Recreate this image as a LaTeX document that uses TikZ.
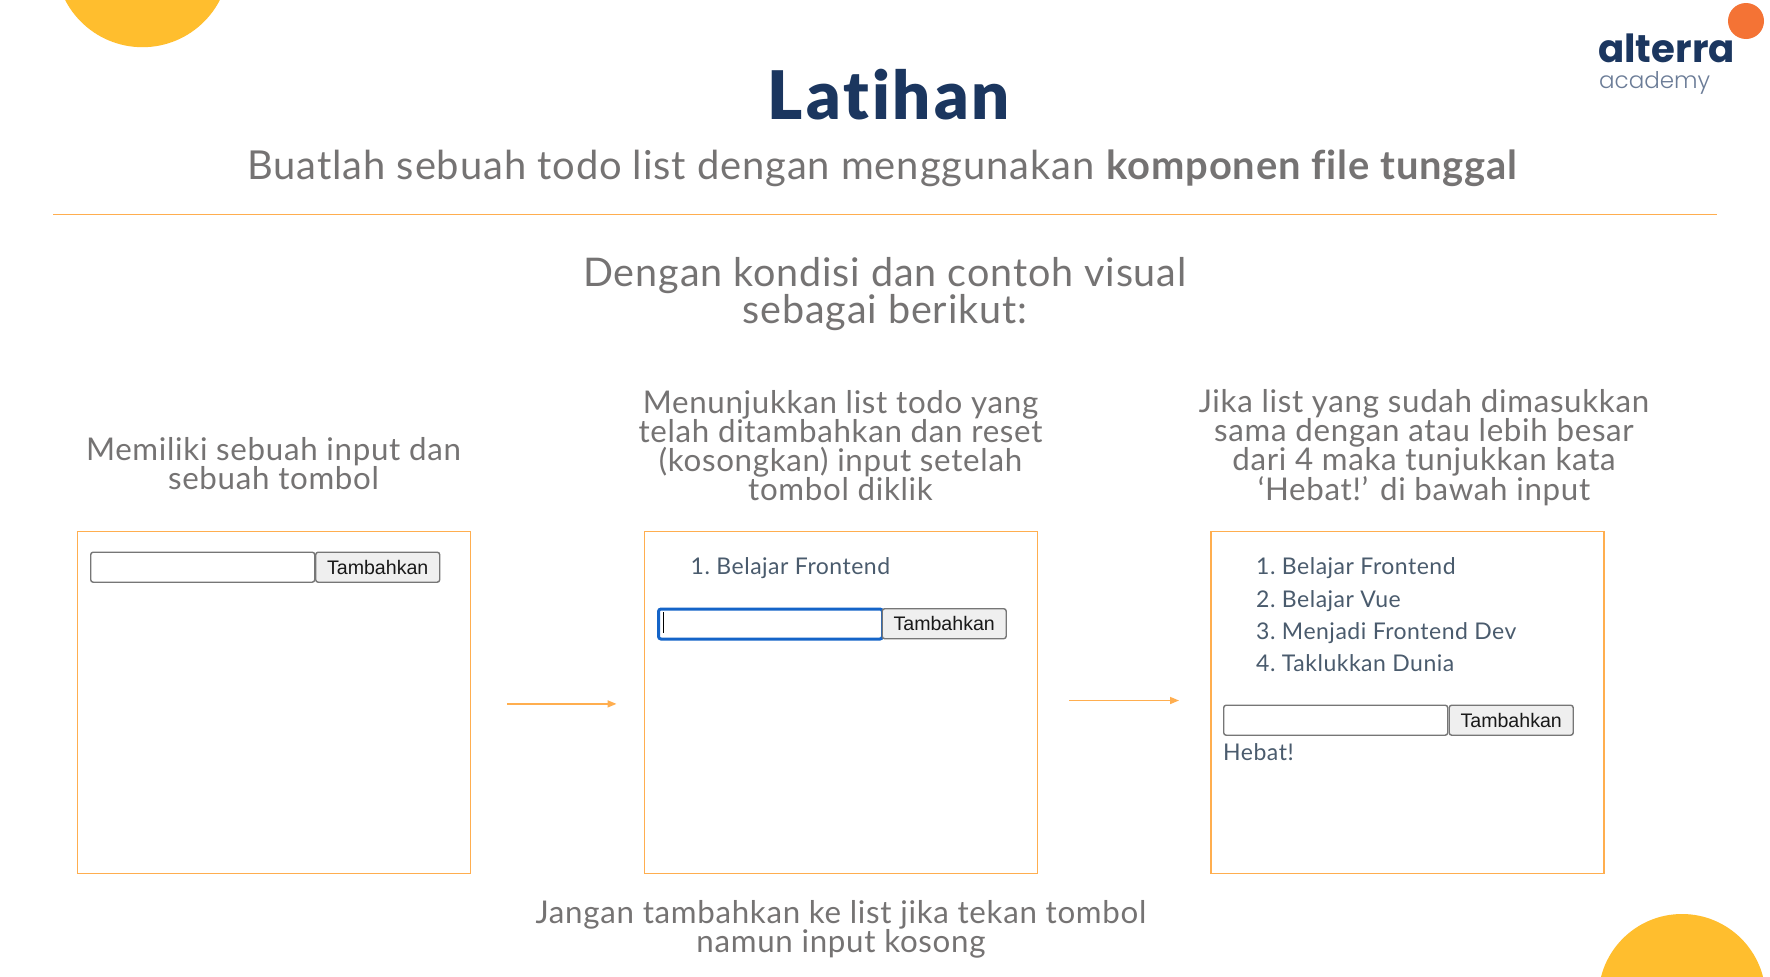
\documentclass[tikz,border=0pt]{standalone}
\usepackage{fontspec}
\setmainfont{Lato}[LetterSpace=2.2,Ligatures=NoCommon]
\newfontfamily\titlefont{Lato Black}[LetterSpace=4.5,Ligatures=NoCommon]
\newfontfamily\logofont{Poppins}
\newfontfamily\logolight{Poppins Light}
\newfontfamily\btnfont{Liberation Sans}
\usetikzlibrary{arrows.meta}
\definecolor{navy}{HTML}{1B365F}
\definecolor{greytext}{HTML}{757373}
\definecolor{framecol}{HTML}{FFAE4F}
\definecolor{listcol}{HTML}{4A5B6D}
\definecolor{sunny}{HTML}{FFBE2E}
\definecolor{logoorange}{HTML}{F47335}
\definecolor{btnfill}{HTML}{EFEFEF}
\definecolor{btnedge}{HTML}{767676}
\definecolor{focusblue}{HTML}{1464C8}
\tikzset{
  x=1pt,y=-1pt,
  lbl/.style={inner sep=0pt,outer sep=0pt,text=greytext,align=center,font=\fontsize{29}{29}\selectfont},
  sublbl/.style={lbl,font=\fontsize{31.3}{29}\selectfont},
  frame/.style={draw=framecol,line width=1.5pt,inner sep=0pt,minimum width=393pt,minimum height=342pt,anchor=north west},
  inputbox/.style={draw=btnedge,line width=1.4pt,rounded corners=2.5pt,fill=white,minimum width=224pt,minimum height=30pt,inner sep=0pt,anchor=north west},
  focused/.style={inputbox,draw=focusblue,line width=3pt},
  btn/.style={draw=btnedge,line width=1.4pt,rounded corners=2.5pt,fill=btnfill,minimum width=124pt,minimum height=30pt,inner sep=0pt,anchor=north west,font=\btnfont\fontsize{19.6}{19.6}\selectfont,text=black!90},
  item/.style={inner sep=0pt,anchor=base west,text=listcol,font=\fontsize{23}{23}\selectfont},
  flow/.style={draw=framecol,line width=1.5pt,-{Triangle[length=9pt,width=7pt]}},
}
\begin{document}
\begin{tikzpicture}
\useasboundingbox (0,0) rectangle (1770,977);
\fill[white] (0,0) rectangle (1770,977);
\begin{scope}
\clip (0,0) rectangle (1770,977);
\fill[sunny] (142.5,-39.8) circle[radius=87];
\fill[sunny] (1682,997.6) circle[radius=83.6];
\end{scope}
\fill[logoorange] (1746,21) circle[radius=18];
\node[inner sep=0,anchor=base west,text=navy,font=\logofont\bfseries\fontsize{38.7}{38.7}\selectfont] (brand) at (1598,62) {alterra};
\node[inner sep=0,anchor=base west,text=navy!65,font=\logolight\fontsize{23}{23}\selectfont] (academy) at (1599,88) {academy};
\node[inner sep=0,anchor=base,text=navy,font=\titlefont\fontsize{67}{67}\selectfont] (title) at (889,119) {Latihan};
\node[lbl,anchor=base,font=\fontsize{39.9}{40}\selectfont] (subtitle) at (883,179) {Buatlah sebuah todo list dengan menggunakan \textbf{komponen file tunggal}};
\coordinate (ruleL) at (53,214.5);
\coordinate (ruleR) at (1717,214.5);
\draw[framecol,line width=1.4pt] (ruleL) -- (ruleR);
\node[lbl,anchor=north,font=\fontsize{39.5}{37.5}\selectfont] (cond) at (885,257) {Dengan kondisi dan contoh visual\\sebagai berikut:};
\node[sublbl,anchor=south] (h1) at (273.5,490) {Memiliki sebuah input dan\\sebuah tombol};
\node[sublbl,anchor=south] (h2) at (840.5,501) {Menunjukkan list todo yang\\telah ditambahkan dan reset\\(kosongkan) input setelah\\tombol diklik};
\node[sublbl,anchor=south] (h3) at (1424,506) {Jika list yang sudah dimasukkan\\sama dengan atau lebih besar\\dari 4 maka tunjukkan kata\\‘Hebat!’ di bawah input};
\node[frame] (f1) at (76.5,530.5) {};
\node[frame] (f2) at (643.5,530.5) {};
\node[frame] (f3) at (1210,530.5) {};
\node[inputbox] (i1) at (90,551.5) {};
\node[btn] (b1) at (315,551.5) {Tambahkan};
\node[item] (a1) at (690.5,574) {1.\hspace{6.5pt}Belajar Frontend};
\node[focused] (i2) at (657,607.5) {};
\coordinate (caretT) at (663,612);
\coordinate (caretB) at (663,633);
\draw[black,line width=1pt] (caretT) -- (caretB);
\node[btn] (b2) at (881.5,608) {Tambahkan};
\node[item] (c1) at (1256,574) {1.\hspace{6.5pt}Belajar Frontend};
\node[item] (c2) at (1256,607) {2.\hspace{6.5pt}Belajar Vue};
\node[item] (c3) at (1256,639) {3.\hspace{6.5pt}Menjadi Frontend Dev};
\node[item] (c4) at (1256,671.5) {4.\hspace{6.5pt}Taklukkan Dunia};
\node[inputbox] (i3) at (1223,704.5) {};
\node[btn] (b3) at (1448.5,704.5) {Tambahkan};
\node[item] (hebat) at (1223,760) {Hebat!};
\coordinate (a1s) at (507,703.9);
\coordinate (a1e) at (616.5,703.9);
\coordinate (a2s) at (1069,700.5);
\coordinate (a2e) at (1179,700.5);
\draw[flow] (a1s) -- (a1e);
\draw[flow] (a2s) -- (a2e);
\node[sublbl,anchor=north] (foot) at (841,900.5) {Jangan tambahkan ke list jika tekan tombol\\namun input kosong};
\end{tikzpicture}
\end{document}
